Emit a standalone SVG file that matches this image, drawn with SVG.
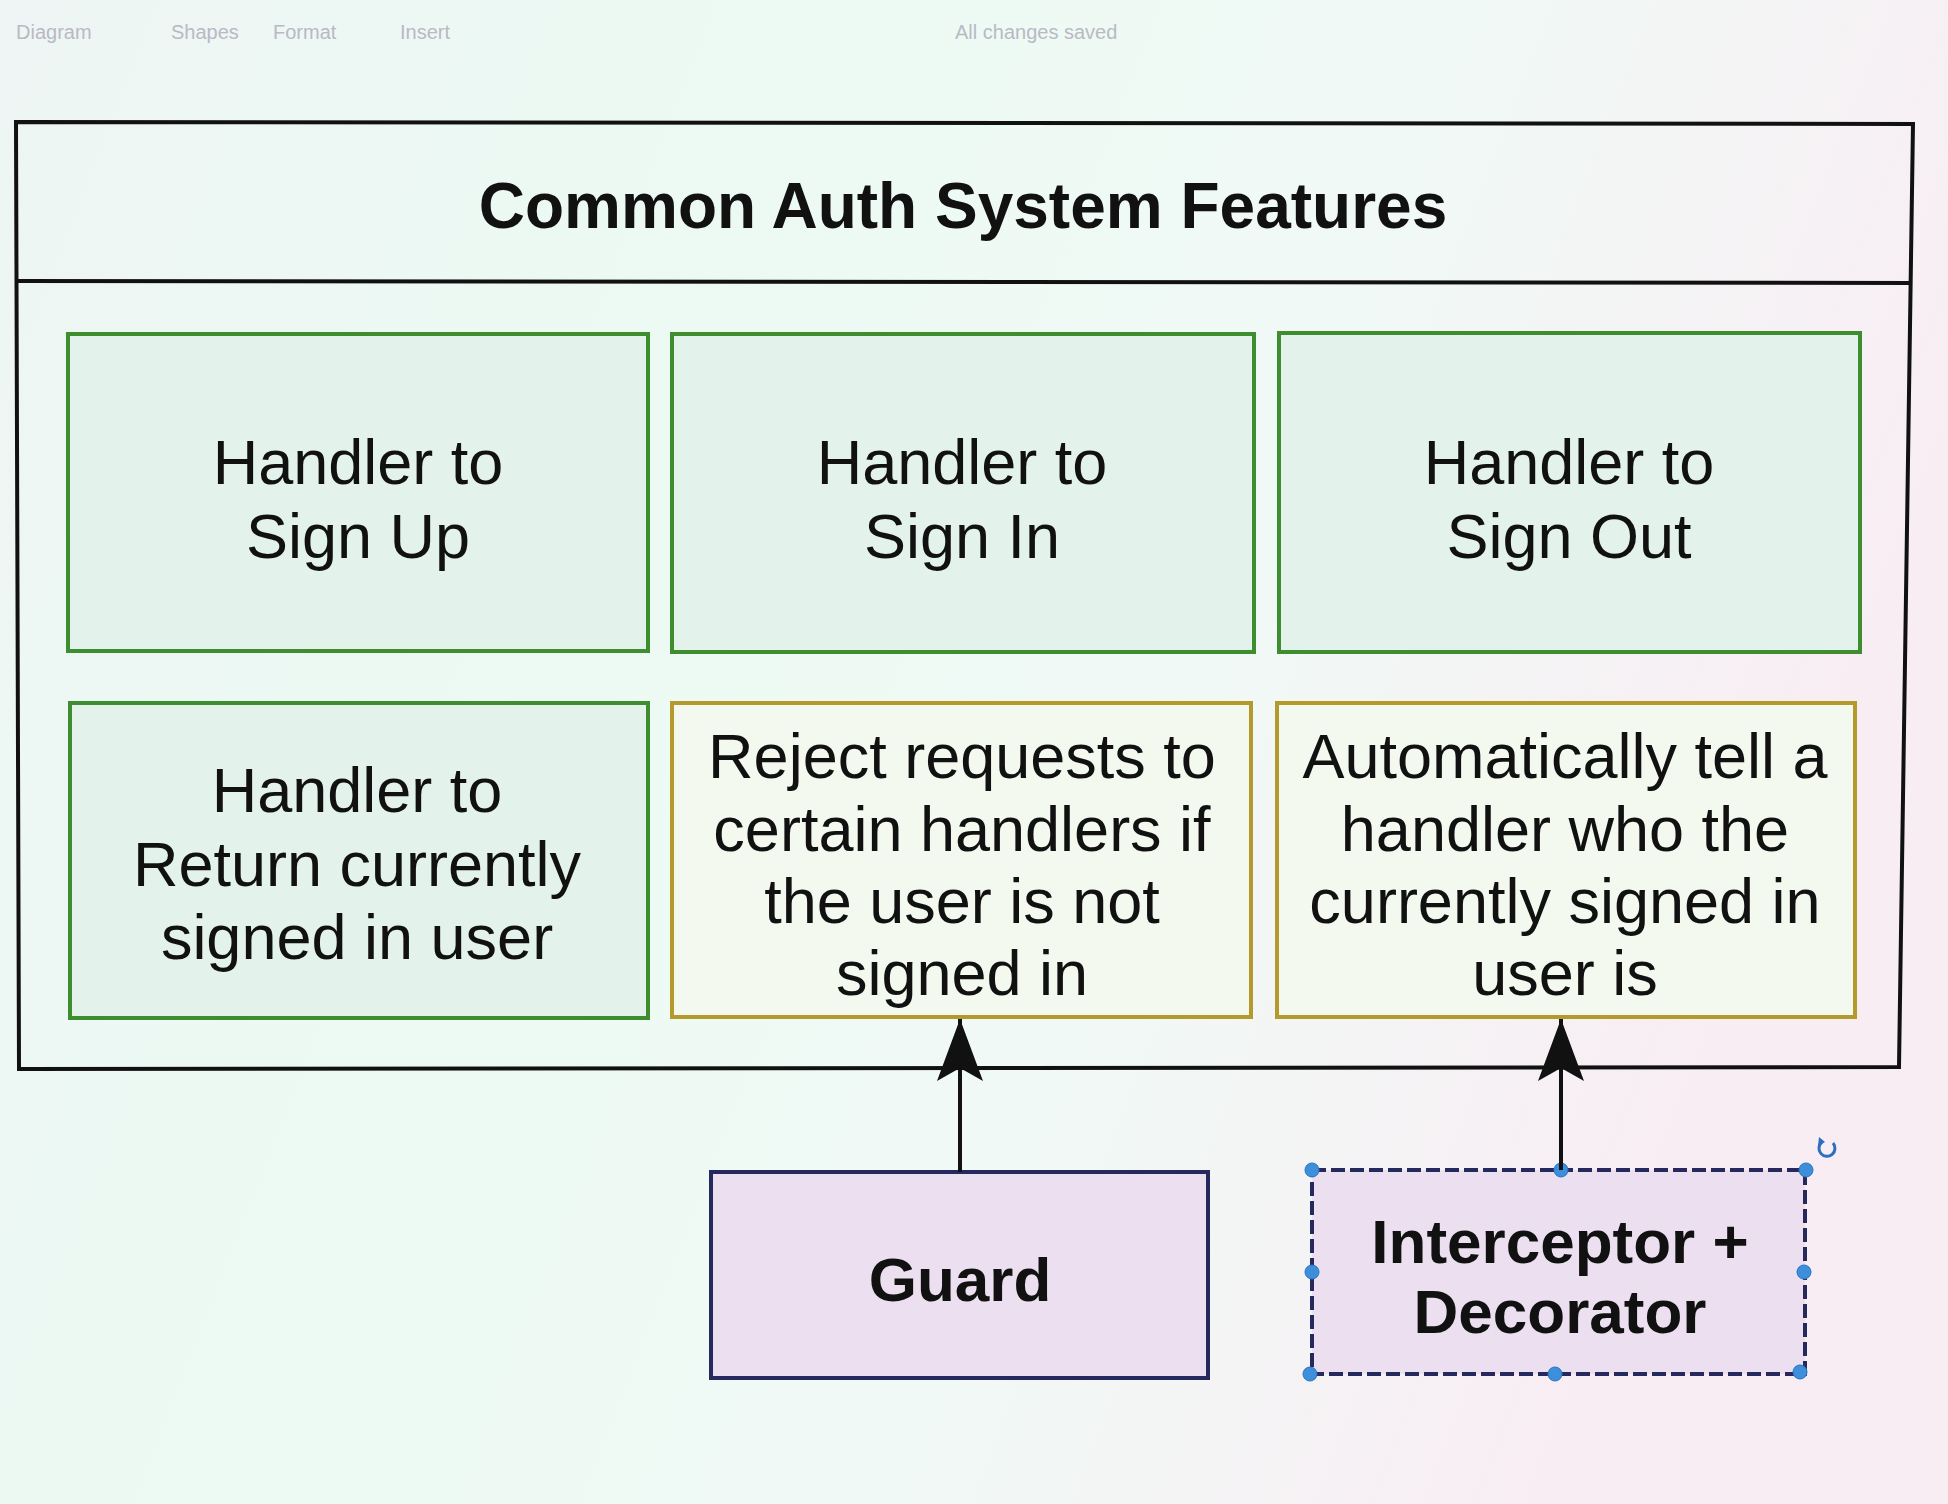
<svg xmlns="http://www.w3.org/2000/svg" width="1948" height="1504" viewBox="0 0 1948 1504">
  <defs>
    <linearGradient id="bg" x1="0" y1="0" x2="1" y2="0.3">
      <stop offset="0" stop-color="#eef5f4"/>
      <stop offset="0.35" stop-color="#ecfaf3"/>
      <stop offset="0.7" stop-color="#f1f9f6"/>
      <stop offset="1" stop-color="#f8edf3"/>
    </linearGradient>
    <marker id="arrow" markerUnits="userSpaceOnUse" markerWidth="64" markerHeight="46" refX="62" refY="23" orient="auto">
      <path d="M62,23 L0,0 L13,23 L0,46 Z" fill="#111"/>
    </marker>
    <style>
      .lbl { font-family: "Liberation Sans", Arial, Helvetica, sans-serif; font-size: 63px; fill: #111; text-anchor: middle; }
      .bold { font-weight: bold; font-size: 62px; }
      .title { font-size: 64px; }
      .menu { font-family: "Liberation Sans", Arial, sans-serif; font-size: 20px; fill: #b9b9c4; }
      .green { fill: #e3f3ec; stroke: #3e8d2e; stroke-width: 4; }
      .yellow { fill: #f3f9ee; stroke: #b49a2c; stroke-width: 4; }
      .purple { fill: #ece0f0; stroke: #25295e; stroke-width: 4; }
      .handle { fill: #3d8fdc; stroke: #2a74c0; stroke-width: 1; }
      .conn { stroke: #111; stroke-width: 4; fill: none; }
    </style>
  </defs>

  <rect x="0" y="0" width="1948" height="1504" fill="url(#bg)"/>

  <g id="menubar">
    <text class="menu" x="16" y="39">Diagram</text>
    <text class="menu" x="171" y="39">Shapes</text>
    <text class="menu" x="273" y="39">Format</text>
    <text class="menu" x="400" y="39">Insert</text>
    <text class="menu" x="955" y="39">All changes saved</text>
  </g>

  <g id="frame">
    <polygon points="16,122 1913,124 1899,1067 19,1069" fill="none" stroke="#111" stroke-width="4"/>
    <line x1="16" y1="281" x2="1912" y2="283" stroke="#111" stroke-width="4"/>
    <text class="lbl bold title" x="963" y="228">Common Auth System Features</text>
  </g>

  <g id="sign-up">
    <rect class="green" x="68" y="334" width="580" height="317"/>
    <text class="lbl" x="358" y="484">Handler to</text>
    <text class="lbl" x="358" y="558">Sign Up</text>
  </g>

  <g id="sign-in">
    <rect class="green" x="672" y="334" width="582" height="318"/>
    <text class="lbl" x="962" y="484">Handler to</text>
    <text class="lbl" x="962" y="558">Sign In</text>
  </g>

  <g id="sign-out">
    <rect class="green" x="1279" y="333" width="581" height="319"/>
    <text class="lbl" x="1569" y="484">Handler to</text>
    <text class="lbl" x="1569" y="558">Sign Out</text>
  </g>

  <g id="current-user">
    <rect class="green" x="70" y="703" width="578" height="315"/>
    <text class="lbl" x="357" y="812">Handler to</text>
    <text class="lbl" x="357" y="886">Return currently</text>
    <text class="lbl" x="357" y="959">signed in user</text>
  </g>

  <g id="reject">
    <rect class="yellow" x="672" y="703" width="579" height="314"/>
    <text class="lbl" x="962" y="778">Reject requests to</text>
    <text class="lbl" x="962" y="851">certain handlers if</text>
    <text class="lbl" x="962" y="923">the user is not</text>
    <text class="lbl" x="962" y="995">signed in</text>
  </g>

  <g id="auto-tell">
    <rect class="yellow" x="1277" y="703" width="578" height="314"/>
    <text class="lbl" x="1565" y="778">Automatically tell a</text>
    <text class="lbl" x="1565" y="851">handler who the</text>
    <text class="lbl" x="1565" y="923">currently signed in</text>
    <text class="lbl" x="1565" y="995">user is</text>
  </g>

  <g id="guard">
    <rect class="purple" x="711" y="1172" width="497" height="206"/>
    <text class="lbl bold" x="960" y="1301">Guard</text>
  </g>

  <g id="interceptor">
    <rect class="purple" x="1312" y="1170" width="493" height="204" stroke-dasharray="14 5"/>
    <text class="lbl bold" x="1560" y="1263">Interceptor +</text>
    <text class="lbl bold" x="1560" y="1333">Decorator</text>
    <circle class="handle" cx="1312" cy="1170" r="7"/>
    <circle class="handle" cx="1561" cy="1170" r="7"/>
    <circle class="handle" cx="1806" cy="1170" r="7"/>
    <circle class="handle" cx="1312" cy="1272" r="7"/>
    <circle class="handle" cx="1804" cy="1272" r="7"/>
    <circle class="handle" cx="1310" cy="1374" r="7"/>
    <circle class="handle" cx="1555" cy="1374" r="7"/>
    <circle class="handle" cx="1800" cy="1372" r="7"/>
    <path d="M1833,1143 A8,8 0 1 1 1822,1142" fill="none" stroke="#2a6fc0" stroke-width="3"/>
    <path d="M1819,1137 L1825,1142 L1818,1146 Z" fill="#2a6fc0"/>
  </g>

  <g id="connectors">
    <line class="conn" x1="960" y1="1172" x2="960" y2="1019" marker-end="url(#arrow)"/>
    <line class="conn" x1="1561" y1="1170" x2="1561" y2="1019" marker-end="url(#arrow)"/>
  </g>
</svg>
